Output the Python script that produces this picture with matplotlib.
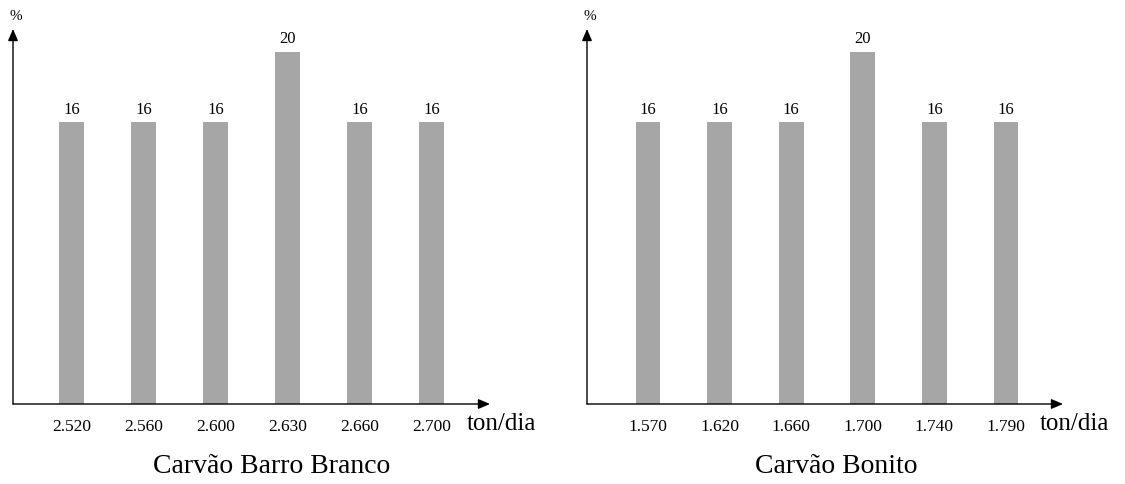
import matplotlib
matplotlib.use("Agg")
import matplotlib.pyplot as plt

plt.rcParams['font.family'] = ['Liberation Serif', 'DejaVu Serif']

# Carvao Barro Branco
bb_labels = ["2.520", "2.560", "2.600", "2.630", "2.660", "2.700"]
bb_values = [16, 16, 16, 20, 16, 16]

# Carvao Bonito
bo_labels = ["1.570", "1.620", "1.660", "1.700", "1.740", "1.790"]
bo_values = [16, 16, 16, 20, 16, 16]

W, H = 1125, 485
fig = plt.figure(figsize=(W / 100, H / 100), dpi=100)

ARROW = dict(arrowstyle="-|>,head_length=0.7,head_width=0.3", color="black",
             lw=1, mutation_scale=10, shrinkA=0, shrinkB=0)


def panel(rect, labels, values, xlim, ylim, title, title_x):
    x0, y0, x1, y1 = rect  # pixel coords, y measured from top
    ax = fig.add_axes([x0 / W, (H - y1) / H, (x1 - x0) / W, (y1 - y0) / H])
    xs = list(range(len(values)))
    ax.bar(xs, values, width=0.347, color="#a6a6a6")
    for x, v in zip(xs, values):
        ax.annotate(str(v), (x, v), xytext=(0, 4), textcoords="offset points",
                    ha="center", va="bottom", fontsize=12)
    ax.set_xlim(*xlim)
    ax.set_ylim(*ylim)
    for s in ax.spines.values():
        s.set_visible(False)
    ax.set_xticks(xs)
    ax.set_xticklabels(labels, fontsize=12.5)
    ax.tick_params(length=0, pad=10)
    ax.set_yticks([])
    # axis arrows
    ax.annotate("", xy=(0, 1), xytext=(0, 0), xycoords="axes fraction",
                arrowprops=ARROW)
    ax.annotate("", xy=(1, 0), xytext=(0, 0), xycoords="axes fraction",
                arrowprops=ARROW)
    ax.annotate("%", (0, 1), xytext=(2, 10), xycoords="axes fraction",
                textcoords="offset points", ha="center", va="center",
                fontsize=11)
    ax.annotate("ton/dia", (1, 0), xytext=(-17, -14), xycoords="axes fraction",
                textcoords="offset points", ha="left", va="center",
                fontsize=18)
    fig.text(title_x / W, 1 - 473 / H, title, ha="center", va="baseline",
             fontsize=20)
    return ax


panel((13, 30, 490, 405), bb_labels, bb_values, (-0.819, 5.806), (0, 21.3),
      "Carvão Barro Branco", 272)
panel((587, 30, 1063, 405), bo_labels, bo_values, (-0.852, 5.796), (0, 21.3),
      "Carvão Bonito", 836)

fig.savefig("out.png", dpi=100)
